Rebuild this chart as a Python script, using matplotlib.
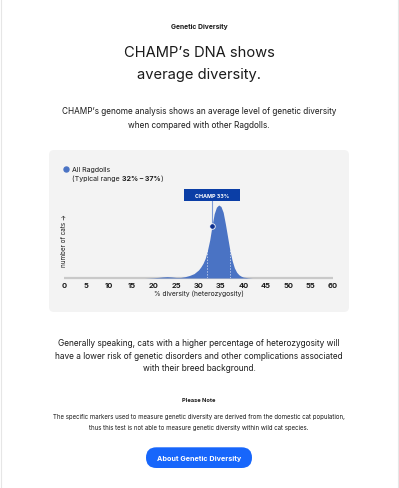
import matplotlib.pyplot as plt
import numpy as np
from matplotlib.patches import FancyBboxPatch, Rectangle

plt.rcParams['font.family'] = ['Inter', 'DejaVu Sans']

# distribution of diversity among all Ragdolls (relative density)
div_pct = [18, 19, 20, 21, 22, 23, 24, 25, 26, 27, 28, 29, 30, 30.5, 31,
           31.5, 32, 32.5, 33, 33.5, 34, 34.5, 35, 35.5, 36, 36.5, 37, 37.5,
           38, 38.5, 39, 39.5, 40, 41, 42]
density = [0, 0.002, 0.004, 0.008, 0.014, 0.018, 0.014, 0.008, 0.008, 0.018,
           0.035, 0.06, 0.11, 0.15, 0.2, 0.27, 0.38, 0.52, 0.71, 0.88, 0.97,
           1.0, 0.98, 0.9, 0.74, 0.56, 0.38, 0.24, 0.14, 0.08, 0.045, 0.025,
           0.012, 0.004, 0]
typical_range = [32, 37]
champ_pct = 33
xticks = list(range(0, 61, 5))

dark = '#1b1b1b'
blue = '#4a73c4'
navy = '#0b3ea6'

fig = plt.figure(figsize=(3.99, 4.89), dpi=100)

# background axes in pixel coordinates (y down)
bg = fig.add_axes([0, 0, 1, 1])
bg.set_xlim(0, 399)
bg.set_ylim(489, 0)
bg.axis('off')
bg.add_patch(Rectangle((0.5, -1), 397.5, 491, fc='white', ec='#e6e6e6', lw=0.8))
bg.add_patch(FancyBboxPatch((49, 151), 300, 162, boxstyle='round,pad=0,rounding_size=5',
                            fc='#f3f3f3', ec='none'))

bg.text(199, 27.5, 'Genetic Diversity', ha='center', va='center', fontsize=4.9,
        weight='bold', color=dark)
bg.text(199, 53, 'CHAMP\u2019s DNA shows', ha='center', va='center', fontsize=10.6,
        color=dark)
bg.text(199, 74.5, 'average diversity.', ha='center', va='center', fontsize=10.6,
        color=dark)
bg.text(199, 111.5, 'CHAMP\u2019s genome analysis shows an average level of genetic diversity',
        ha='center', va='center', fontsize=5.9, color=dark)
bg.text(199, 125, 'when compared with other Ragdolls.', ha='center', va='center',
        fontsize=5.9, color=dark)

body = ['Generally speaking, cats with a higher percentage of heterozygosity will',
        'have a lower risk of genetic disorders and other complications associated',
        'with their breed background.']
for i, line in enumerate(body):
    bg.text(199, 344 + 12.2 * i, line, ha='center', va='center', fontsize=6.0,
            color=dark)

bg.text(199, 401, 'Please Note', ha='center', va='center', fontsize=4.1,
        weight='bold', color=dark)
bg.text(199, 417.3, 'The specific markers used to measure genetic diversity are derived '
        'from the domestic cat population,', ha='center', va='center',
        fontsize=4.4, color=dark)
bg.text(199, 428.3, 'thus this test is not able to measure genetic diversity within wild cat species.',
        ha='center', va='center', fontsize=4.4, color=dark)

bg.add_patch(FancyBboxPatch((146, 448.3), 106, 20.7,
                            boxstyle='round,pad=0,rounding_size=10.3',
                            fc='#1766fb', ec='none'))
bg.text(199, 458.7, 'About Genetic Diversity', ha='center', va='center',
        fontsize=5.2, weight='bold', color='white')

# chart axes: x 0..60 -> px 64..333, baseline at px 279, 73 px per unit
ax = fig.add_axes([64 / 399, 210 / 489, 269 / 399, 80 / 489])
ax.patch.set_alpha(0)
ax.set_xlim(0, 60)
ax.set_ylim(0, 80 / 73)
for s in ax.spines.values():
    s.set_visible(False)
ax.set_yticks([])

ax.plot([0, 60], [0, 0], color='#c9c9c9', lw=1.6, zorder=1, clip_on=False,
        solid_capstyle='butt')
ax.fill_between(div_pct, density, 0, color=blue, lw=0, zorder=2)

for r in typical_range:
    ax.plot([r, r], [0, np.interp(r, div_pct, density)], color='white', lw=0.7,
            alpha=0.6, ls=(0, (1.5, 1.5)), zorder=3)

champ_y = np.interp(champ_pct, div_pct, density)
ax.plot([champ_pct, champ_pct], [champ_y, 1.06], color='#7c9ad6', lw=0.8,
        zorder=3, clip_on=False)
ax.plot(champ_pct, champ_y, 'o', ms=4, color='#0d2f8e', mec='white', mew=0.6,
        zorder=5, clip_on=False)
ax.add_patch(Rectangle((champ_pct - 6.15, 1.055), 12.3, 0.158, fc=navy,
                       ec='none', zorder=4, clip_on=False))
ax.text(champ_pct, 1.134, 'CHAMP 33%', ha='center', va='center', fontsize=3.9,
        weight='bold', color='white', zorder=5, clip_on=False)

ax.set_xticks(xticks)
ax.tick_params(axis='x', length=0, pad=3.0, labelsize=5.4, labelcolor=dark)
for t in ax.get_xticklabels():
    t.set_fontweight('bold')
ax.set_xlabel('% diversity (heterozygosity)', fontsize=4.8, color=dark, labelpad=1.2)

bg.text(63.5, 241, 'number of cats \u2192', rotation=90, ha='center', va='center',
        fontsize=4.5, color=dark)

# legend
bg.plot(65.8, 170, 'o', ms=3.6, color=blue)
bg.text(72.5, 170, 'All Ragdolls', ha='left', va='center', fontsize=5.1, color=dark)
t1 = bg.text(72.5, 178.5, '(Typical range ', ha='left', va='center', fontsize=5.1,
             color=dark)
t2 = bg.annotate('32% \u2013 37%', xy=(1, 0), xycoords=t1, ha='left', va='bottom',
                 fontsize=5.1, weight='bold', color=dark)
bg.annotate(')', xy=(1, 0), xycoords=t2, ha='left', va='bottom', fontsize=5.1,
            color=dark)

fig.savefig('out.png', dpi=100)
